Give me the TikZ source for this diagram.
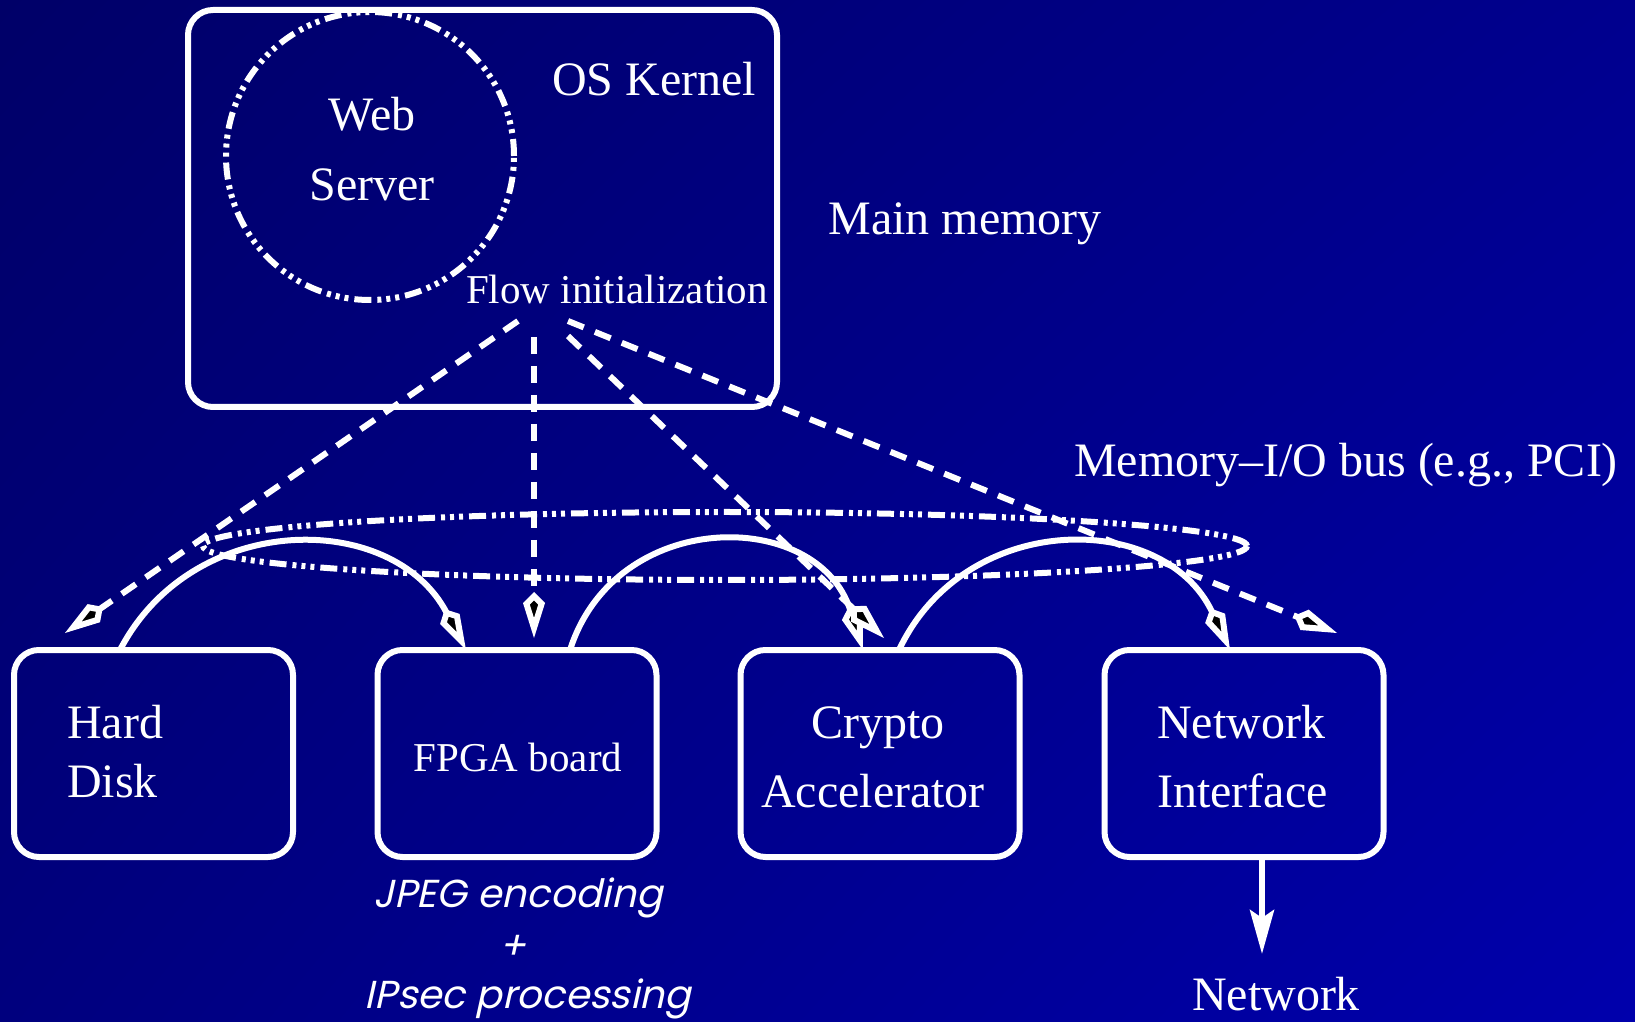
\documentclass[tikz,border=0pt]{standalone}
\usepackage{fontspec}
\setmainfont{Liberation Serif}
\newfontfamily\avant{Poppins}[FakeSlant=0.22]
\usetikzlibrary{arrows.meta,calc,shapes.geometric,shadings}
\definecolor{bgTL}{RGB}{0,0,104}
\definecolor{bgTR}{RGB}{0,0,142}
\definecolor{bgBL}{RGB}{0,0,126}
\definecolor{bgBR}{RGB}{0,0,172}
\begin{document}
\begin{tikzpicture}[x=1pt,y=1pt,
  boxst/.style={draw=white, line width=6pt, rounded corners=25pt, outer sep=0pt,
                minimum width=279pt, minimum height=207pt, inner sep=0pt},
  bigtxt/.style={text=white, font=\fontsize{48}{58}\selectfont, anchor=base, inner sep=0pt},
  midtxt/.style={text=white, font=\fontsize{41}{50}\selectfont, anchor=base, inner sep=0pt},
  itxt/.style={text=white, font=\avant\fontsize{39}{46}\selectfont, anchor=base, inner sep=0pt},
  dashdotst/.style={draw=white, line width=6pt,
                dash pattern=on 17pt off 6pt on 4pt off 5pt on 4pt off 5pt on 4pt off 6pt},
  kitetip/.style={-{Kite[length=46pt,width=22pt,inset=11pt,fill=black,line width=6pt]}},
  flowst/.style={draw=white, line width=6pt, dash pattern=on 17pt off 12pt, kitetip},
  hopst/.style={draw=white, line width=6pt, kitetip},
  outst/.style={draw=white, line width=6pt, -{Stealth[length=44pt,width=24pt,inset=8pt,fill=white]}}
]
\useasboundingbox (0,0) rectangle (1635,1021);
\shade[upper left=bgTL, upper right=bgTR, lower left=bgBL, lower right=bgBR] (0,0) rectangle (1635,1021);

% main memory / kernel box
\node[boxst, minimum width=589pt, minimum height=397pt] (kern) at (482.5,812.5) {};
\node[dashdotst, circle, minimum size=288pt, inner sep=0pt] (ws) at (370,865) {};
\node[bigtxt] (web) at (372,890) {Web};
\node[bigtxt] (server) at (372,820) {Server};
\node[bigtxt] (oskern) at (654,925) {OS Kernel};
\node[midtxt] (flow) at (617,717.5) {Flow initialization};
\node[bigtxt] (mainmem) at (965,786) {Main memory};

% bus
\node[dashdotst, ellipse, minimum width=1044pt, minimum height=68pt, inner sep=0pt] (bus) at (725,475) {};
\node[bigtxt] (buslbl) at (1346,544) {Memory–I/O bus (e.g., PCI)};

% devices
\node[boxst] (hd) at (153.5,267.5) {};
\node[boxst] (fpga) at (517,267.5) {};
\node[boxst] (cr) at (880,267.5) {};
\node[boxst] (ni) at (1244,267.5) {};

\node[bigtxt, anchor=base west] (hard) at (67,283) {Hard};
\node[bigtxt, anchor=base west] (disk) at (67,224) {Disk};
\node[midtxt] (fpgalbl) at (518,249.5) {FPGA board};
\node[bigtxt] (crypto) at (878,283) {Crypto};
\node[bigtxt] (accel) at (873,214) {Accelerator};
\node[bigtxt, anchor=base west] (netw) at (1157,283) {Network};
\node[bigtxt, anchor=base west] (iface) at (1157,214) {Interface};

\node[itxt] (jpeg) at (518,114) {JPEG encoding};
\node[itxt] (plus) at (513,62) {+};
\node[itxt] (ipsec) at (528,13) {IPsec processing};
\node[bigtxt] (netout) at (1276,11) {Network};

% hop arcs between devices
\path (hd.north) ++(-33.5,0) coordinate (a1s);
\path (fpga.north) ++(-51,0) coordinate (a1e);
\path (fpga.north) ++(53,0) coordinate (a2s);
\path (cr.north) ++(-17,0) coordinate (a2e);
\path (cr.north) ++(19,0) coordinate (a3s);
\path (ni.north) ++(-14,0) coordinate (a3e);
\draw[hopst] (a1s) .. controls +(62.5:158) and +(117.5:158) .. (a1e);
\draw[hopst] (a2s) .. controls +(72.3:150) and +(107.7:150) .. (a2e);
\draw[hopst] (a3s) .. controls +(64.8:155) and +(115.2:155) .. (a3e);

% flow initialization arrows
\coordinate (f1s) at (518,700);
\coordinate (f2s) at (534,684);
\coordinate (f3s) at (568,685);
\coordinate (f4s) at (568,700);
\coordinate (f1e) at (65,388);
\coordinate (f2e) at (534,383);
\coordinate (f3e) at (884,383);
\coordinate (f4e) at (1337,388);
\draw[flowst] (f1s) -- (f1e);
\draw[flowst] (f2s) -- (f2e);
\draw[flowst] (f3s) -- (f3e);
\draw[flowst] (f4s) -- (f4e);

% network output
\path (ni.south) ++(18,0) coordinate (nos);
\coordinate (noe) at (1262,67);
\draw[outst] (nos) -- (noe);
\end{tikzpicture}
\end{document}
